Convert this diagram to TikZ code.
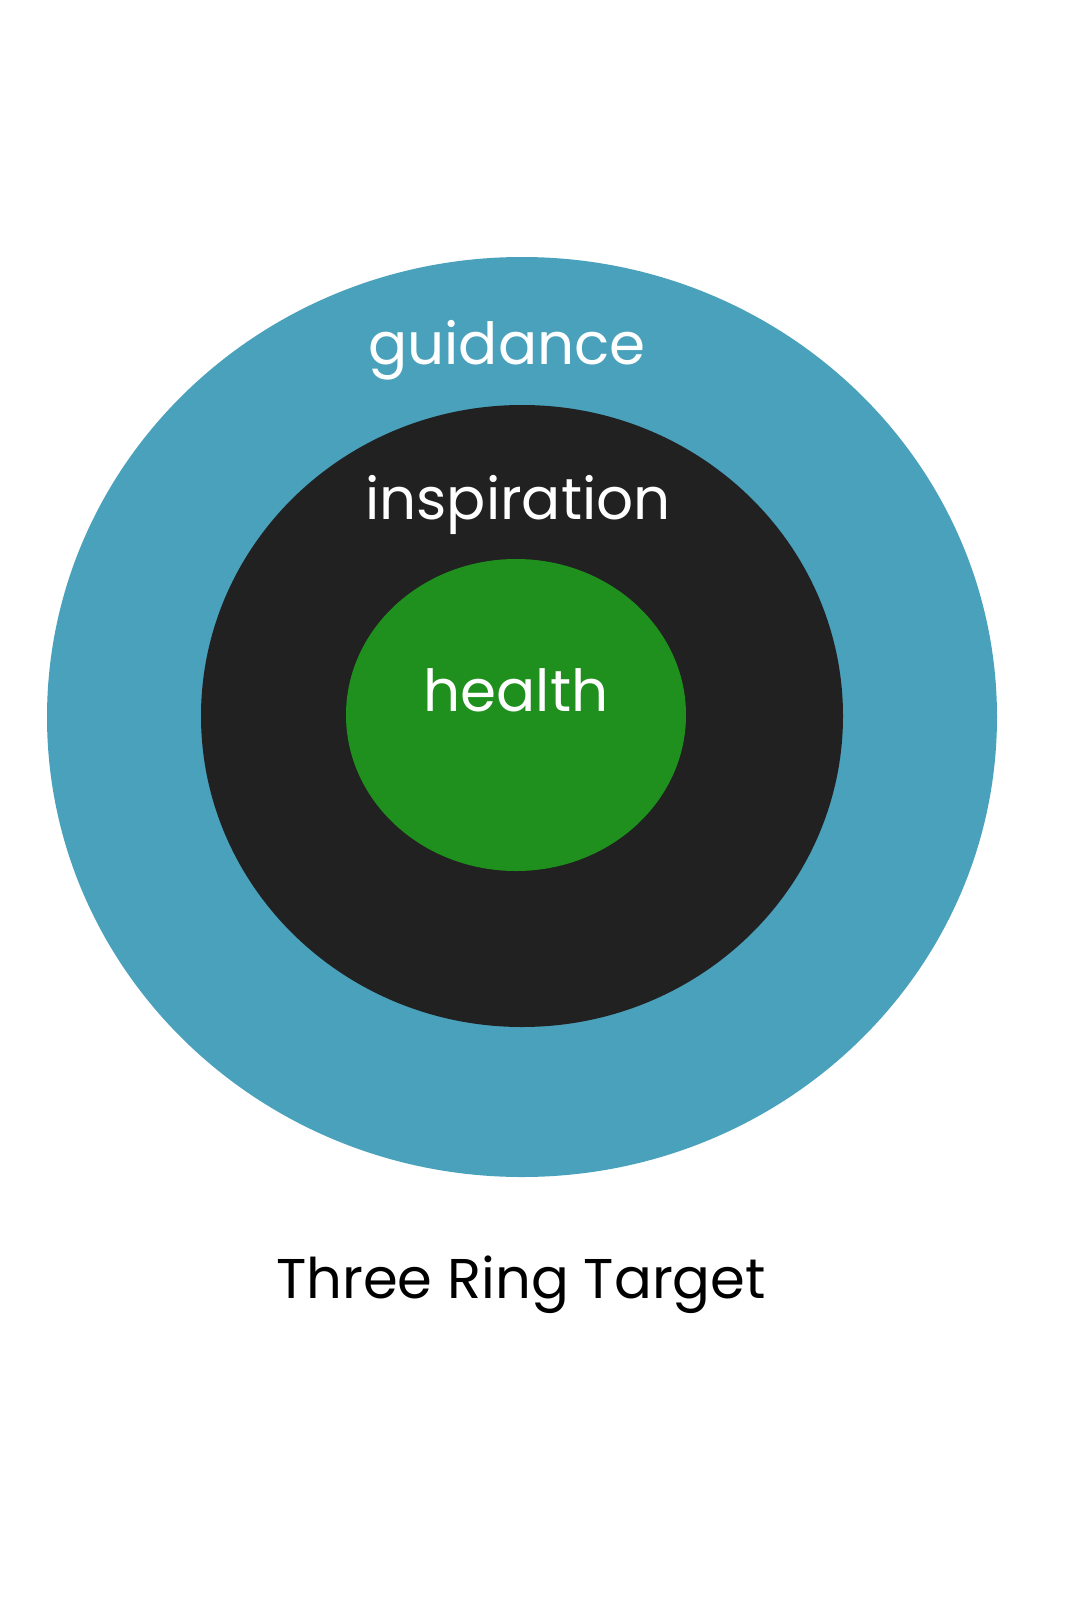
\documentclass[tikz,border=0pt]{standalone}
\usepackage{fontspec}
\setmainfont{Poppins}
\definecolor{ringblue}{HTML}{4AA1BC}
\definecolor{ringblack}{HTML}{212121}
\definecolor{ringgreen}{HTML}{1F901D}
\tikzset{lbl/.style={font=\fontsize{58}{60}\selectfont\fontseries{l}, text=white, inner sep=0pt}}
\begin{document}
\begin{tikzpicture}[x=1pt,y=-1pt]
\useasboundingbox (0,0) rectangle (1067,1600);
\fill[ringblue] (522,717) ellipse [x radius=475, y radius=460];
\fill[ringblack] (522,716) ellipse [x radius=321, y radius=311];
\fill[ringgreen] (516,715) ellipse [x radius=170, y radius=156];
\node[lbl] (g) at (507,350) {guidance};
\node[lbl] (i) at (518,505) {inspiration};
\node[lbl] (h) at (516,690) {health};
\node[lbl, text=black, font=\fontsize{56}{60}\selectfont] (t) at (521,1285) {Three Ring Target};
\end{tikzpicture}
\end{document}
